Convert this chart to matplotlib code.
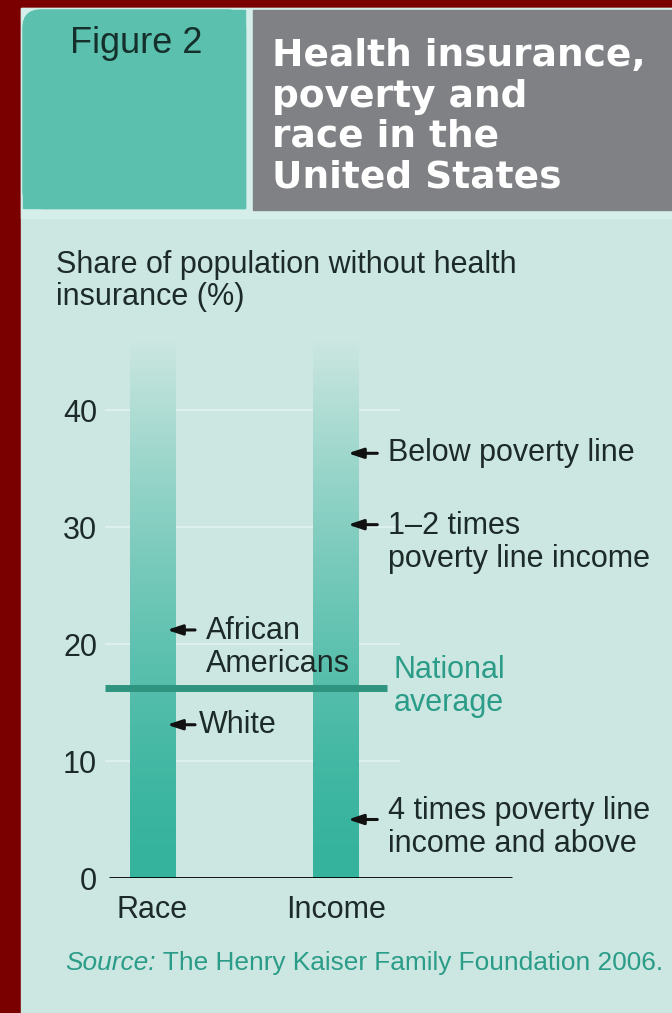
import matplotlib
matplotlib.use("Agg")
import matplotlib.pyplot as plt
import numpy as np
from matplotlib.colors import LinearSegmentedColormap
from matplotlib.patches import Rectangle, FancyBboxPatch

W, H = 672, 1013

# ---- data ----
categories = ["Race", "Income"]
race_labels = ["African\nAmericans", "White"]
race_values = [21.2, 13.1]
income_labels = ["Below poverty line", "1\u20132 times\npoverty line income",
                 "4 times poverty line\nincome and above"]
income_values = [36.3, 30.2, 5.0]
national_average = 16.2
yticks = [0, 10, 20, 30, 40]
fade_top = 46

plt.rcParams["font.family"] = ["Liberation Sans", "DejaVu Sans"]

BG = "#cce7e1"
TEAL = "#35b39d"
DARK = "#1c2a28"
SRC = "#2a9c88"
FS = 22

fig = plt.figure(figsize=(W / 100, H / 100), dpi=100, facecolor="#7a0000")

# frame / header in pixel coordinates
bg = fig.add_axes([0, 0, 1, 1])
bg.set_xlim(0, W)
bg.set_ylim(H, 0)
bg.axis("off")
bg.add_patch(Rectangle((21, 8), W - 21, H - 8, color=BG, zorder=0))
bg.add_patch(Rectangle((21, 8), W - 21, 210, color="#d6eee9", zorder=0))
# teal box with only the top-left corner rounded
bx, by, bwid, bh, r = 23, 10, 222, 198, 18
box = "#5bc0ad"
bg.add_patch(FancyBboxPatch((bx, by), bwid, bh, boxstyle=f"round,pad=0,rounding_size={r}",
                            color=box, zorder=1))
bg.add_patch(Rectangle((bx + r, by), bwid - r, bh, color=box, zorder=1))
bg.add_patch(Rectangle((bx, by + r), bwid, bh - r, color=box, zorder=1))
bg.add_patch(Rectangle((253, 10), W - 253, 200, color="#808184", zorder=1))
bg.text(70, 53, "Figure 2", fontsize=26, color="#15302c", va="baseline", ha="left")
# multi-line baseline alignment uses the last line
bg.text(272, 187, "Health insurance,\npoverty and\nrace in the\nUnited States",
        fontsize=27, fontweight="bold", color="white", va="baseline", ha="left",
        linespacing=1.15, family=["DejaVu Sans"])
bg.text(56, 305, "Share of population without health\ninsurance (%)", fontsize=FS,
        color=DARK, va="baseline", ha="left", linespacing=1.08)
src = bg.text(65, 963, "Source:", fontsize=18.9, style="italic", color=SRC,
              va="center", ha="left")
bg.annotate(" The Henry Kaiser Family Foundation 2006.", xy=(1, 0.5), xycoords=src,
            fontsize=18.9, color=SRC, va="center", ha="left")

# data axes
px_per_unit = 11.7
y0 = 878
ax = fig.add_axes([100 / W, (H - y0) / H, (W - 100) / W, fade_top * px_per_unit / H])
ax.set_facecolor("none")
for s in ax.spines.values():
    s.set_visible(False)

xpos = np.arange(len(categories))
bw = 0.25
cmap = LinearSegmentedColormap.from_list("fade", [TEAL, BG])
grad = (np.linspace(0, 1, 256) ** 1.5)[:, None]
for x in xpos:
    ax.imshow(grad, extent=[x - bw / 2, x + bw / 2, 0, fade_top], origin="lower",
              cmap=cmap, aspect="auto", vmin=0, vmax=1, zorder=2)

ax.hlines(yticks[1:], -0.26, 1.35, color="#dcf1ed", lw=1.5, zorder=1)
ax.hlines(0, -0.237, 1.96, color="black", lw=2, zorder=4)
ax.hlines(national_average, -0.26, 1.28, color="#2e947f", lw=5, zorder=5)

arrow = dict(arrowstyle="-|>,head_length=0.9,head_width=0.3", color="#111", lw=2.2,
             shrinkA=0, shrinkB=0)
race_dy = [-1.5, 0]
for lab, v, dy in zip(race_labels, race_values, race_dy):
    ax.annotate("", xy=(0.079, v), xytext=(0.232, v), arrowprops=arrow, zorder=6)
    ax.text(0.29 if "\n" in lab else 0.253, v + dy, lab, fontsize=FS, color=DARK,
            va="center", ha="left", linespacing=1.12, zorder=6)
income_dy = [0, -1.5, -0.7]
for lab, v, dy in zip(income_labels, income_values, income_dy):
    ax.annotate("", xy=(1.065, v), xytext=(1.225, v), arrowprops=arrow, zorder=6)
    ax.text(1.283, v + dy, lab, fontsize=FS, color=DARK, va="center", ha="left",
            linespacing=1.12, zorder=6)
ax.text(1.315, national_average + 0.2, "National\naverage", fontsize=FS,
        color=SRC, va="center", ha="left", linespacing=1.12, zorder=6)

ax.set_xlim(-0.2861, 2.831)
ax.set_ylim(0, fade_top)
ax.set_yticks(yticks)
ax.set_yticklabels([str(t) for t in yticks], fontsize=FS, color=DARK)
ax.set_xticks(xpos)
ax.set_xticklabels(categories, fontsize=FS, color=DARK)
ax.tick_params(length=0, axis="y", pad=2)
ax.tick_params(length=0, axis="x", pad=12)

fig.savefig("out.png", dpi=100, facecolor=fig.get_facecolor())
